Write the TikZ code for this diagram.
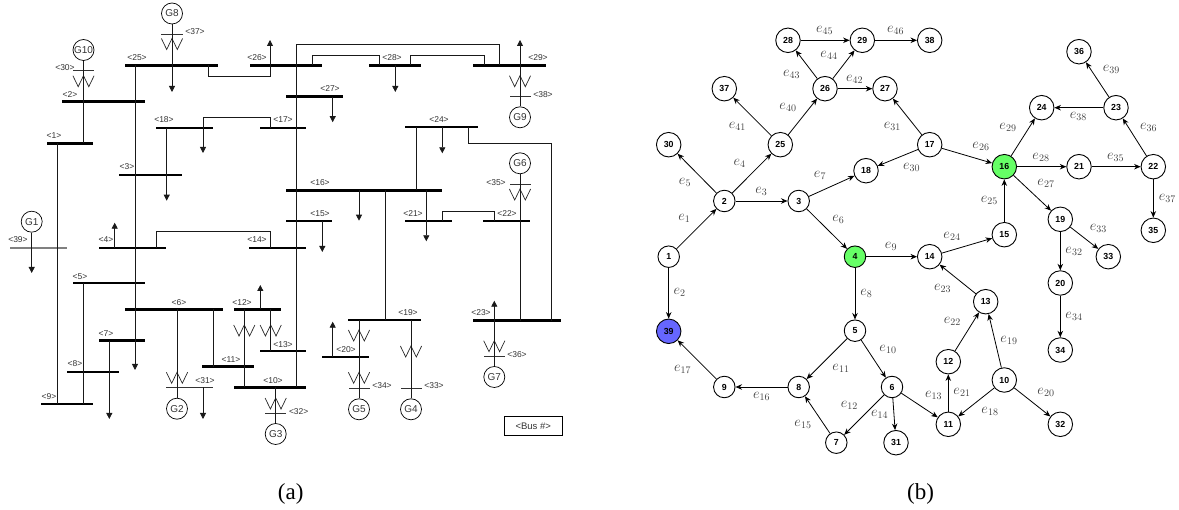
\documentclass[tikz,border=0pt]{standalone}
\usepackage[no-math]{fontspec}
\setmainfont{Liberation Serif}
\newfontfamily\busfont{Liberation Sans}
\usetikzlibrary{arrows.meta,shapes.geometric}

\begin{document}
\begin{tikzpicture}[
      x=1pt, y=-1pt,
      >={Stealth[length=6.5pt,width=5.5pt]},
      Wire/.style={line width=0.8pt, black!90},
      Load/.style={Wire, -{Triangle[length=6pt,width=6pt]}},
      Bus/.style={fill=black, inner sep=0pt, minimum height=2.8pt},
      ThinBus/.style={fill=black!80, inner sep=0pt, minimum height=0.8pt},
      BusText/.style={font=\fontsize{8.5}{9}\selectfont\busfont, text=black!80, inner sep=0pt},
      Gen/.style={draw, circle, line width=0.7pt, minimum size=21pt, inner sep=0pt,
        font=\fontsize{10}{10}\selectfont\busfont, text=black!80},
      Coil/.pic={\draw[line width=0.7pt, black!85] (-10.6,0) -- (-5.3,11) -- (0,0) -- (5.3,11) -- (10.6,0);},
      Vertex/.style={draw, circle, line width=0.9pt, minimum size=21.5pt, inner sep=0pt,
        font=\fontsize{8.8}{9}\selectfont\busfont\bfseries},
      BigVertex/.style={Vertex, minimum size=24.5pt},
      EdgeText/.style={font=\Large, text=black!75, inner sep=0pt},
      Caption/.style={font=\fontsize{23}{24}\selectfont, inner sep=0pt},
      Edge/.style={->, line width=0.8pt},
      ]
      \useasboundingbox (0,0) rectangle (1179,510);

      % (a) buses
      \node[Bus, minimum width=93pt] (b25) at (171.5,65.5) {};
      \node[Bus, minimum width=72pt] (b26) at (286,65.5) {};
      \node[Bus, minimum width=52pt] (b28) at (395,65.5) {};
      \node[Bus, minimum width=73pt] (b29) at (509.5,65.5) {};
      \node[Bus, minimum width=57pt] (b27) at (314.5,96.7) {};
      \node[Bus, minimum width=83pt] (b2) at (103.5,101.7) {};
      \node[Bus, minimum width=57pt] (b18) at (184.5,128) {};
      \node[Bus, minimum width=46pt] (b17) at (283,128) {};
      \node[Bus, minimum width=73pt] (b24) at (441.5,127) {};
      \node[Bus, minimum width=46pt] (b1) at (70,143.5) {};
      \node[Bus, minimum width=63pt] (b3) at (150.5,175) {};
      \node[Bus, minimum width=156pt] (b16) at (364,190.5) {};
      \node[Bus, minimum width=46pt] (b15) at (309,221) {};
      \node[Bus, minimum width=47pt] (b21) at (428.5,221) {};
      \node[Bus, minimum width=47pt] (b22) at (506.5,221) {};
      \node[Bus, minimum width=67pt] (b4) at (132.5,248) {};
      \node[Bus, minimum width=57pt] (b14) at (277.5,248) {};
      \node[Bus, minimum width=72pt] (b5) at (109,283) {};
      \node[Bus, minimum width=98pt] (b6) at (174,309.5) {};
      \node[Bus, minimum width=47pt] (b12) at (257.5,309.5) {};
      \node[Bus, minimum width=46pt] (b13) at (283,351) {};
      \node[Bus, minimum width=46pt] (b7) at (122,340.7) {};
      \node[Bus, minimum width=52pt] (b11) at (228,366.7) {};
      \node[Bus, minimum width=52pt] (b8) at (93,372) {};
      \node[Bus, minimum width=72pt] (b10) at (270,387.3) {};
      \node[Bus, minimum width=52pt] (b9) at (67,404) {};
      \node[Bus, minimum width=73pt] (b19) at (384.5,320) {};
      \node[Bus, minimum width=47pt] (b20) at (345.5,357) {};
      \node[Bus, minimum width=88pt] (b23) at (517,320.7) {};

      % thin bars at the generators
      \node[ThinBus, fill=black!50, minimum width=57pt, minimum height=1.8pt] (b39) at (38.5,248) {};
      \node[ThinBus, minimum width=21.5pt] (b37) at (172,34) {};
      \node[ThinBus, minimum width=21.5pt] (b30) at (83.5,70.5) {};
      \node[ThinBus, minimum width=21pt] (b38) at (520,96.7) {};
      \node[ThinBus, minimum width=21pt] (b35) at (520,184) {};
      \node[ThinBus, minimum width=46.7pt] (b31) at (189.3,387.3) {};
      \node[ThinBus, minimum width=21pt] (b32) at (275.7,413.7) {};
      \node[ThinBus, minimum width=21pt] (b34) at (359,388.3) {};
      \node[ThinBus, minimum width=21pt] (b33) at (411,388.3) {};
      \node[ThinBus, minimum width=21pt] (b36) at (494.3,356.3) {};

      % bus labels
      \node[BusText] (l25) at (137,58) {<25>};
      \node[BusText] (l26) at (257,58) {<26>};
      \node[BusText] (l28) at (392,58) {<28>};
      \node[BusText] (l29) at (538,58) {<29>};
      \node[BusText] (l27) at (330,89) {<27>};
      \node[BusText] (l2) at (70,94.5) {<2>};
      \node[BusText] (l18) at (164,120) {<18>};
      \node[BusText] (l17) at (283,120) {<17>};
      \node[BusText] (l24) at (439,120) {<24>};
      \node[BusText] (l1) at (54,136) {<1>};
      \node[BusText] (l3) at (127,167) {<3>};
      \node[BusText] (l16) at (320,183) {<16>};
      \node[BusText] (l15) at (320,214) {<15>};
      \node[BusText] (l21) at (413,214) {<21>};
      \node[BusText] (l22) at (507,214) {<22>};
      \node[BusText] (l39) at (18,240) {<39>};
      \node[BusText] (l4) at (106,240) {<4>};
      \node[BusText] (l14) at (257,240) {<14>};
      \node[BusText] (l5) at (80,277) {<5>};
      \node[BusText] (l6) at (179,303) {<6>};
      \node[BusText] (l12) at (242,303) {<12>};
      \node[BusText] (l13) at (283,344.5) {<13>};
      \node[BusText] (l7) at (106,334) {<7>};
      \node[BusText] (l11) at (231,360) {<11>};
      \node[BusText] (l8) at (75,364) {<8>};
      \node[BusText] (l10) at (273,381) {<10>};
      \node[BusText] (l9) at (49,397) {<9>};
      \node[BusText] (l19) at (408,313) {<19>};
      \node[BusText] (l20) at (346,350) {<20>};
      \node[BusText] (l23) at (481,313) {<23>};
      \node[BusText] (l37) at (195,32) {<37>};
      \node[BusText] (l30) at (65,68) {<30>};
      \node[BusText] (l38) at (543,94.5) {<38>};
      \node[BusText] (l35) at (496,183) {<35>};
      \node[BusText] (l31) at (205,381) {<31>};
      \node[BusText] (l32) at (298.7,412) {<32>};
      \node[BusText] (l34) at (382,386) {<34>};
      \node[BusText] (l33) at (434,386) {<33>};
      \node[BusText] (l36) at (517,354.7) {<36>};

      % generators
      \node[Gen] (G1) at (31.7,221.7) {G1};
      \node[Gen] (G2) at (177,408.7) {G2};
      \node[Gen] (G3) at (275.7,434) {G3};
      \node[Gen] (G4) at (411,409.3) {G4};
      \node[Gen] (G5) at (359,409.3) {G5};
      \node[Gen] (G6) at (520,163.3) {G6};
      \node[Gen] (G7) at (494.3,377) {G7};
      \node[Gen] (G8) at (172,13.5) {G8};
      \node[Gen] (G9) at (520,117.3) {G9};
      \node[Gen] (G10) at (83.5,50) {G10};

      % transformer windings
      \pic at (83.5,75.7) {Coil};
      \pic at (172,38.5) {Coil};
      \pic at (520,75.7) {Coil};
      \pic at (520,189) {Coil};
      \pic at (177,372.3) {Coil};
      \pic at (244.3,325) {Coil};
      \pic at (270.7,325) {Coil};
      \pic at (275.7,398) {Coil};
      \pic at (359,330) {Coil};
      \pic at (359,372.3) {Coil};
      \pic at (411,346) {Coil};
      \pic at (494.3,340.7) {Coil};

      % lines between buses
      \draw[Wire] (G10) -- (83.5,0 |- b1);
      \draw[Wire] (57.5,0 |- b1) -- (57.5,0 |- b9);
      \draw[Wire] (83.3,0 |- b5) -- (83.3,0 |- b9);
      \draw[Load] (135,0 |- b25) -- (135,370);
      \draw[Wire] (296.3,44.3) -- (296.3,0 |- b10);
      \draw[Wire] (296.3,44.3) -- (499.3,44.3) -- (499.3,0 |- b29);
      \draw[Wire] (312.3,0 |- b26) -- (312.3,55) -- (379.7,55) -- (379.7,0 |- b28);
      \draw[Wire] (410.7,0 |- b28) -- (410.7,55) -- (484,55) -- (484,0 |- b29);
      \draw[Load] (208,0 |- b25) -- (208,76) -- (270,76) -- (270,40);
      \draw[Wire] (203,0 |- b18) -- (203,117.3) -- (270,117.3) -- (270,0 |- b17);
      \draw[Wire] (156,0 |- b4) -- (156,231) -- (270.3,231) -- (270.3,0 |- b14);
      \draw[Wire] (416,0 |- b24) -- (416,0 |- b16);
      \draw[Wire] (468.3,0 |- b24) -- (468.3,143.7) -- (551.3,143.7) -- (551.3,0 |- b23);
      \draw[Wire] (385,0 |- b16) -- (385,0 |- b19);
      \draw[Wire] (442.3,0 |- b21) -- (442.3,211.3) -- (494.3,211.3) -- (494.3,0 |- b22);
      \draw[Wire] (213.7,0 |- b6) -- (213.7,0 |- b11);
      \draw[Wire] (244.3,0 |- b12) -- (244.3,0 |- b10);
      \draw[Wire] (270.7,0 |- b12) -- (270.7,0 |- b13);
      \draw[Wire] (G6) -- (520,0 |- b23);
      \draw[Wire] (G2) -- (177,0 |- b6);
      \draw[Wire] (G3) -- (275.7,0 |- b10);
      \draw[Wire] (G5) -- (359,0 |- b19);
      \draw[Wire] (G4) -- (411,0 |- b19);
      \draw[Wire] (G9) -- (520,0 |- b29);
      \draw[Wire] (G7) -- (494.3,0 |- b23);

      % loads
      \draw[Load] (G1) -- (31.7,273);
      \draw[Load] (G8) -- (172,92);
      \draw[Load] (395.3,0 |- b28) -- ++(0,26.5);
      \draw[Load] (520,0 |- b29) -- ++(0,-25.5);
      \draw[Load] (332.7,0 |- b27) -- ++(0,25.5);
      \draw[Load] (203,0 |- b18) -- ++(0,25);
      \draw[Load] (166.7,0 |- b18) -- ++(0,72.7);
      \draw[Load] (114.7,0 |- b4) -- ++(0,-25.3);
      \draw[Load] (442.3,0 |- b24) -- ++(0,26.3);
      \draw[Load] (359,0 |- b16) -- ++(0,30.2);
      \draw[Load] (426.3,0 |- b16) -- ++(0,50.8);
      \draw[Load] (322.3,0 |- b15) -- ++(0,31);
      \draw[Load] (203,0 |- b31) -- ++(0,31.7);
      \draw[Load] (260.3,0 |- b12) -- ++(0,-24.5);
      \draw[Load] (109.3,0 |- b7) -- ++(0,78.3);
      \draw[Load] (332.7,0 |- b20) -- ++(0,-35.3);
      \draw[Load] (494.3,0 |- b23) -- ++(0,-20);

      \node[draw, line width=0.7pt, minimum width=57.7pt, minimum height=19pt, inner sep=0pt,
        font=\fontsize{9.5}{10}\selectfont\busfont, text=black!80] (key) at (533.2,425.8) {<Bus \#>};
      \node[Caption] (capa) at (290.7,493.5) {(a)};

      % (b) vertices
      \node[BigVertex] (n28) at (788,40.3) {28};
      \node[BigVertex] (n29) at (862.3,40.3) {29};
      \node[BigVertex] (n38) at (929.7,40.3) {38};
      \node[BigVertex] (n37) at (724.3,88.7) {37};
      \node[BigVertex] (n26) at (825,88.7) {26};
      \node[BigVertex] (n27) at (885,88.7) {27};
      \node[BigVertex] (n30) at (668.7,144.7) {30};
      \node[BigVertex] (n25) at (780.3,144.7) {25};
      \node[BigVertex] (n17) at (929.7,144.7) {17};
      \node[BigVertex] (n18) at (866,170.7) {18};
      \node[Vertex] (n2) at (724.3,201) {2};
      \node[Vertex] (n3) at (798.7,201) {3};
      \node[Vertex] (n1) at (668.7,256.7) {1};
      \node[Vertex, fill={rgb,255:red,102;green,255;blue,102}] (n4) at (855,256.7) {4};
      \node[BigVertex] (n14) at (929.7,256.7) {14};
      \node[BigVertex, fill={rgb,255:red,102;green,102;blue,255}] (n39) at (668.7,331.3) {39};
      \node[Vertex] (n5) at (855,330.7) {5};
      \node[Vertex] (n9) at (724.3,387) {9};
      \node[Vertex] (n8) at (798.7,387) {8};
      \node[Vertex] (n6) at (892,387) {6};
      \node[Vertex] (n7) at (836.3,442.7) {7};
      \node[BigVertex] (n31) at (896,442.7) {31};
      \node[BigVertex] (n11) at (948.3,424.3) {11};
      \node[BigVertex] (n12) at (948.3,361.7) {12};
      \node[BigVertex] (n13) at (985.7,301.7) {13};
      \node[BigVertex] (n10) at (1004.3,380) {10};
      \node[BigVertex] (n32) at (1060.3,424.3) {32};
      \node[BigVertex] (n20) at (1060.3,283) {20};
      \node[BigVertex] (n34) at (1060.3,350) {34};
      \node[BigVertex] (n33) at (1108.3,256.7) {33};
      \node[BigVertex] (n15) at (1004.3,234.7) {15};
      \node[BigVertex, fill={rgb,255:red,102;green,255;blue,102}] (n16) at (1004.3,166.7) {16};
      \node[BigVertex] (n19) at (1060.3,219.3) {19};
      \node[BigVertex] (n21) at (1079,166.7) {21};
      \node[BigVertex] (n22) at (1153.3,166.7) {22};
      \node[BigVertex] (n35) at (1153.3,230.3) {35};
      \node[BigVertex] (n24) at (1041.7,107.7) {24};
      \node[BigVertex] (n23) at (1116,107.7) {23};
      \node[BigVertex] (n36) at (1079,51.7) {36};

      % (b) edges
      \draw[Edge] (n1) -- (n2);
      \draw[Edge] (n1) -- (n39);
      \draw[Edge] (n2) -- (n3);
      \draw[Edge] (n2) -- (n25);
      \draw[Edge] (n2) -- (n30);
      \draw[Edge] (n3) -- (n4);
      \draw[Edge] (n3) -- (n18);
      \draw[Edge] (n4) -- (n5);
      \draw[Edge] (n4) -- (n14);
      \draw[Edge] (n5) -- (n6);
      \draw[Edge] (n5) -- (n8);
      \draw[Edge] (n6) -- (n7);
      \draw[Edge] (n6) -- (n11);
      \draw[Edge] (n6) -- (n31);
      \draw[Edge] (n7) -- (n8);
      \draw[Edge] (n8) -- (n9);
      \draw[Edge] (n9) -- (n39);
      \draw[Edge] (n10) -- (n11);
      \draw[Edge] (n10) -- (n13);
      \draw[Edge] (n10) -- (n32);
      \draw[Edge] (n11) -- (n12);
      \draw[Edge] (n12) -- (n13);
      \draw[Edge] (n13) -- (n14);
      \draw[Edge] (n14) -- (n15);
      \draw[Edge] (n15) -- (n16);
      \draw[Edge] (n17) -- (n16);
      \draw[Edge] (n17) -- (n18);
      \draw[Edge] (n17) -- (n27);
      \draw[Edge] (n16) -- (n19);
      \draw[Edge] (n16) -- (n21);
      \draw[Edge] (n16) -- (n24);
      \draw[Edge] (n19) -- (n20);
      \draw[Edge] (n19) -- (n33);
      \draw[Edge] (n20) -- (n34);
      \draw[Edge] (n21) -- (n22);
      \draw[Edge] (n22) -- (n23);
      \draw[Edge] (n22) -- (n35);
      \draw[Edge] (n23) -- (n24);
      \draw[Edge] (n23) -- (n36);
      \draw[Edge] (n25) -- (n26);
      \draw[Edge] (n25) -- (n37);
      \draw[Edge] (n26) -- (n27);
      \draw[Edge] (n26) -- (n28);
      \draw[Edge] (n26) -- (n29);
      \draw[Edge] (n28) -- (n29);
      \draw[Edge] (n29) -- (n38);

      % (b) edge labels
      \node[EdgeText] (e1) at (684.3,218.7) {$e_{1}$};
      \node[EdgeText] (e2) at (679.7,292.3) {$e_{2}$};
      \node[EdgeText] (e3) at (761.3,191.3) {$e_{3}$};
      \node[EdgeText] (e4) at (739.7,163.3) {$e_{4}$};
      \node[EdgeText] (e5) at (685,182) {$e_{5}$};
      \node[EdgeText] (e6) at (838.3,219) {$e_{6}$};
      \node[EdgeText] (e7) at (820,175.7) {$e_{7}$};
      \node[EdgeText] (e8) at (866.3,293.3) {$e_{8}$};
      \node[EdgeText] (e9) at (891,246.7) {$e_{9}$};
      \node[EdgeText] (e10) at (888,349.3) {$e_{10}$};
      \node[EdgeText] (e11) at (841,368) {$e_{11}$};
      \node[EdgeText] (e12) at (849.3,405) {$e_{12}$};
      \node[EdgeText] (e13) at (933.7,395.7) {$e_{13}$};
      \node[EdgeText] (e14) at (879.7,414.3) {$e_{14}$};
      \node[EdgeText] (e15) at (803,424) {$e_{15}$};
      \node[EdgeText] (e16) at (761.7,396) {$e_{16}$};
      \node[EdgeText] (e17) at (682.7,369) {$e_{17}$};
      \node[EdgeText] (e18) at (990,411.3) {$e_{18}$};
      \node[EdgeText] (e19) at (1009,340.3) {$e_{19}$};
      \node[EdgeText] (e20) at (1046,392.3) {$e_{20}$};
      \node[EdgeText] (e21) at (962,392.3) {$e_{21}$};
      \node[EdgeText] (e22) at (952.3,321.7) {$e_{22}$};
      \node[EdgeText] (e23) at (942.7,288.7) {$e_{23}$};
      \node[EdgeText] (e24) at (952,236) {$e_{24}$};
      \node[EdgeText] (e25) at (989.3,200) {$e_{25}$};
      \node[EdgeText] (e26) at (981,146.3) {$e_{26}$};
      \node[EdgeText] (e27) at (1046,183) {$e_{27}$};
      \node[EdgeText] (e28) at (1041,157.3) {$e_{28}$};
      \node[EdgeText] (e29) at (1008,127.3) {$e_{29}$};
      \node[EdgeText] (e30) at (911.7,167.3) {$e_{30}$};
      \node[EdgeText] (e31) at (892.3,126.7) {$e_{31}$};
      \node[EdgeText] (e32) at (1074,251) {$e_{32}$};
      \node[EdgeText] (e33) at (1098.3,228.3) {$e_{33}$};
      \node[EdgeText] (e34) at (1074,316.7) {$e_{34}$};
      \node[EdgeText] (e35) at (1115.7,157.3) {$e_{35}$};
      \node[EdgeText] (e36) at (1148.7,127.7) {$e_{36}$};
      \node[EdgeText] (e37) at (1167.3,198.7) {$e_{37}$};
      \node[EdgeText] (e38) at (1078.3,116.7) {$e_{38}$};
      \node[EdgeText] (e39) at (1111.3,69.7) {$e_{39}$};
      \node[EdgeText] (e40) at (788,107.3) {$e_{40}$};
      \node[EdgeText] (e41) at (737.3,126) {$e_{41}$};
      \node[EdgeText] (e42) at (854.7,79) {$e_{42}$};
      \node[EdgeText] (e43) at (791.7,74) {$e_{43}$};
      \node[EdgeText] (e44) at (829,55) {$e_{44}$};
      \node[EdgeText] (e45) at (824.7,30.7) {$e_{45}$};
      \node[EdgeText] (e46) at (895.7,30.7) {$e_{46}$};

      \node[Caption] (capb) at (920.5,493.5) {(b)};
    \end{tikzpicture}
\end{document}
